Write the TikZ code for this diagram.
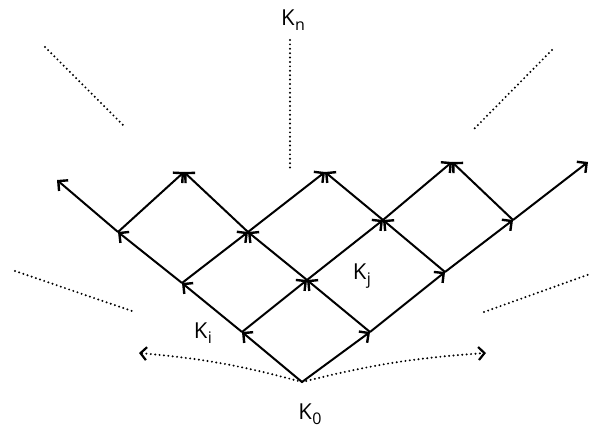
\documentclass[tikz,border=0pt]{standalone}
\usepackage{fontspec}
\setmainfont{Open Sans}
\usetikzlibrary{arrows.meta}
\newcommand\KSub[1]{K\kern0.5pt\raisebox{-0.45ex}{\fontsize{16}{16}\selectfont #1}}
\begin{document}
\begin{tikzpicture}[x=1pt,y=-1pt,
  edge/.style={line width=2pt,-{Straight Barb[length=7pt,width=14pt,line width=2.4pt]}},
  dots/.style={line width=2.2pt,line cap=round,dash pattern=on 0pt off 4.4pt},
  dotarrow/.style={dots,-{Straight Barb[length=6pt,width=13pt,line width=2.2pt]}},
  lbl/.style={font=\fontsize{22}{22}\selectfont,inner sep=0pt}]
\useasboundingbox (0,0) rectangle (590,430);
% lattice points
\coordinate (K0) at (302,382);
\coordinate (A1) at (242,332);
\coordinate (B1) at (370,332);
\coordinate (A2) at (182,283);
\coordinate (M) at (307,280);
\coordinate (B2) at (445,272);
\coordinate (A3) at (118,232);
\coordinate (N1) at (248,232);
\coordinate (N2) at (383,220);
\coordinate (B3) at (513,220);
\coordinate (T0) at (57,180);
\coordinate (T1) at (184,172);
\coordinate (T2) at (325,172);
\coordinate (T3) at (452,162);
\coordinate (T4) at (588,162);
% edges
\draw[edge] (K0) -- (A1);
\draw[edge] (K0) -- (B1);
\draw[edge] (A1) -- (A2);
\draw[edge] (A1) -- (M);
\draw[edge] (B1) -- (M);
\draw[edge] (B1) -- (B2);
\draw[edge] (A2) -- (A3);
\draw[edge] (A2) -- (N1);
\draw[edge] (M) -- (N1);
\draw[edge] (M) -- (N2);
\draw[edge] (B2) -- (N2);
\draw[edge] (B2) -- (B3);
\draw[edge] (A3) -- (T0);
\draw[edge] (A3) -- (T1);
\draw[edge] (N1) -- (T1);
\draw[edge] (N1) -- (T2);
\draw[edge] (N2) -- (T2);
\draw[edge] (N2) -- (T3);
\draw[edge] (B3) -- (T3);
\draw[edge] (B3) -- (T4);
% labels
\node[lbl] (Kn) at (293,20) {\KSub{n}};
\node[lbl] (Ki) at (203,333) {\KSub{i}};
\node[lbl] (Kj) at (362,276) {\KSub{j}};
\node[lbl] (Kz) at (310,414) {\KSub{0}};
% dotted lines
\coordinate (v1) at (290,40);
\coordinate (v2) at (290,170);
\draw[dots] (v1) -- (v2);
\coordinate (ul1) at (45,47);
\coordinate (ul2) at (124,126);
\draw[dots] (ul1) -- (ul2);
\coordinate (ur1) at (552,50);
\coordinate (ur2) at (474,129);
\draw[dots] (ur1) -- (ur2);
\coordinate (ll1) at (15,271);
\coordinate (ll2) at (132,311);
\draw[dots] (ll1) -- (ll2);
\coordinate (lr1) at (484,312);
\coordinate (lr2) at (590,274);
\draw[dots] (lr1) -- (lr2);
\coordinate (la) at (139,353);
\coordinate (ra) at (486,353);
\draw[dotarrow] (K0) to[bend right=5] (la);
\draw[dotarrow] (K0) to[bend left=5] (ra);
\end{tikzpicture}
\end{document}
